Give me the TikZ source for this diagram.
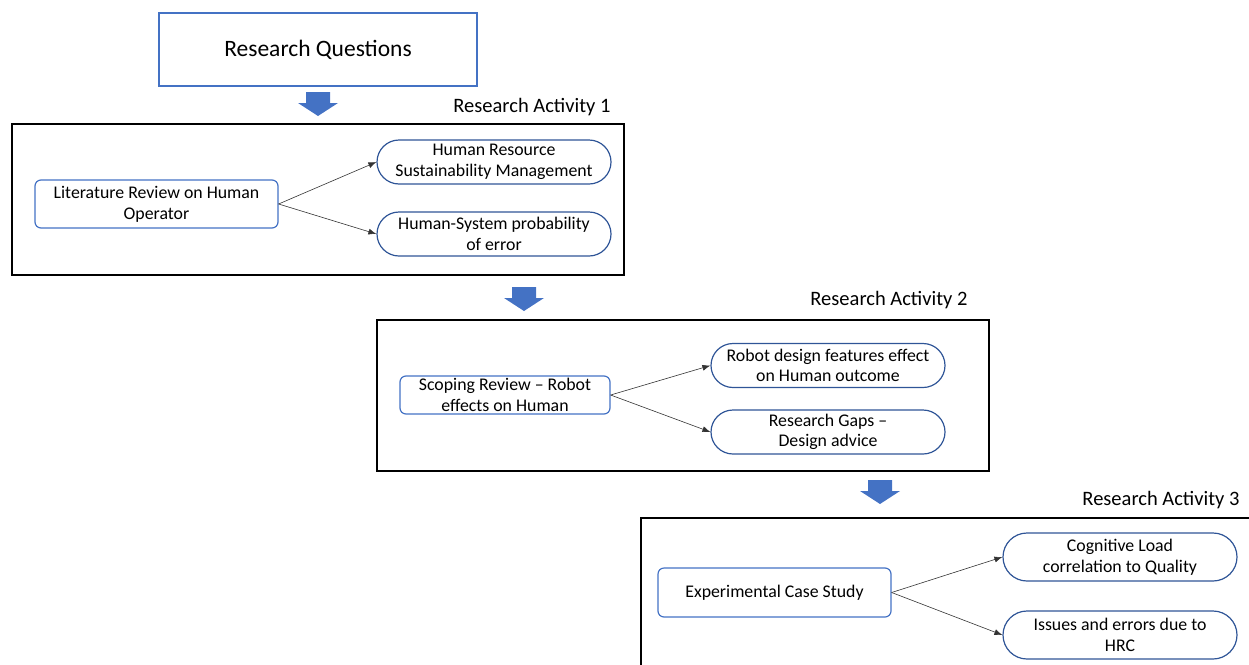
\documentclass[tikz,border=0pt]{standalone}
\usepackage{fontspec}
\setmainfont{Carlito}
\usetikzlibrary{shapes.misc,arrows.meta}
\definecolor{officeblue}{HTML}{4472C4}
\definecolor{edgeblue}{HTML}{2F5597}
\tikzset{
  stage/.style={draw=black,line width=1.3pt},
  topic/.style={draw=officeblue,line width=1.2pt,rounded corners=6pt,align=center,
    font=\fontsize{17.8}{21}\selectfont,inner sep=0pt},
  outcome/.style={draw=edgeblue,line width=1.2pt,rounded rectangle,align=center,
    font=\fontsize{17.8}{20.5}\selectfont,inner sep=0pt,minimum width=234pt,minimum height=44pt},
  stagelabel/.style={anchor=east,font=\fontsize{20.5}{24}\selectfont},
  link/.style={draw=black!80,line width=0.6pt,-{Latex[length=8pt,width=6pt]}},
  downarrow/.pic={\fill[officeblue] (-12,0) -- (12,0) -- (12,11) -- (20,11) -- (0,24)
    -- (-20,11) -- (-12,11) -- cycle;}
}
\begin{document}
\begin{tikzpicture}[x=1pt,y=-1pt]
\useasboundingbox (0,0) rectangle (1249,664);
\clip (0,0) rectangle (1249,664);

% research questions
\node[draw=officeblue,line width=1.2pt,minimum width=318pt,minimum height=73pt,
  font=\fontsize{23.5}{28}\selectfont] (rq) at (318,49.5) {Research Questions};
\pic at (318,92) {downarrow};

% research activity 1
\node[stagelabel] (l1) at (614,107) {Research Activity 1};
\node[stage,minimum width=612pt,minimum height=151pt] (a1) at (318,199.5) {};
\node[topic,minimum width=243pt,minimum height=48pt] (lit) at (156.5,204) {Literature Review on Human\\Operator};
\node[outcome] (hr) at (494,162) {Human Resource\\Sustainability Management};
\node[outcome] (hs) at (494,234) {Human-System probability\\of error};
\draw[link] (lit.east) -- (hr.west);
\draw[link] (lit.east) -- (hs.west);
\pic at (524,287) {downarrow};

% research activity 2
\node[stagelabel] (l2) at (971,300) {Research Activity 2};
\node[stage,minimum width=612pt,minimum height=151pt] (a2) at (683,395.5) {};
\node[topic,minimum width=210pt,minimum height=38pt] (scr) at (505,395) {Scoping Review -- Robot\\effects on Human};
\node[outcome] (rd) at (828,365.5) {Robot design features effect\\on Human outcome};
\node[outcome] (rg) at (828,432) {Research Gaps --\\Design advice};
\draw[link] (scr.east) -- (rd.west);
\draw[link] (scr.east) -- (rg.west);
\pic at (880,480) {downarrow};

% research activity 3
\node[stagelabel] (l3) at (1243,500) {Research Activity 3};
\node[stage,minimum width=640pt,minimum height=170pt] (a3) at (961,603) {};
\node[topic,minimum width=233pt,minimum height=49pt] (ecs) at (774.5,592.5) {Experimental Case Study};
\node[outcome,minimum height=48pt] (cl) at (1120,557) {Cognitive Load\\correlation to Quality};
\node[outcome,minimum height=48pt] (ie) at (1120,635) {Issues and errors due to\\HRC};
\draw[link] (ecs.east) -- (cl.west);
\draw[link] (ecs.east) -- (ie.west);
\end{tikzpicture}
\end{document}
